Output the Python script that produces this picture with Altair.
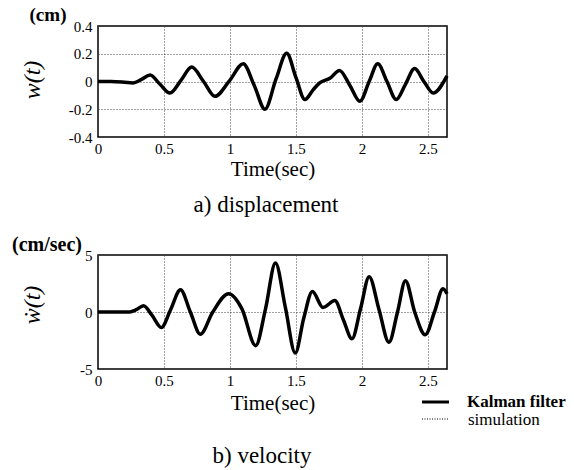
import altair as alt
import pandas as pd

# ---- data ----
t_disp = [0.00, 0.10, 0.20, 0.265, 0.33, 0.395, 0.47, 0.545, 0.63, 0.71, 0.80, 0.886,
          1.00, 1.10, 1.185, 1.265, 1.35, 1.43, 1.50, 1.568, 1.63, 1.68, 1.76, 1.83,
          1.91, 1.985, 2.055, 2.12, 2.19, 2.26, 2.33, 2.40, 2.47, 2.54, 2.645]
w_disp = [0.000, 0.000, -0.005, -0.010, 0.015, 0.046, -0.020, -0.083, 0.010, 0.104, 0.000, -0.107,
          0.010, 0.128, -0.030, -0.200, 0.020, 0.203, 0.030, -0.130, -0.060, -0.010, 0.025, 0.080,
          -0.030, -0.142, 0.000, 0.128, 0.000, -0.130, -0.020, 0.093, 0.000, -0.083, 0.040]

t_vel = [0.00, 0.24, 0.29, 0.345, 0.41, 0.48, 0.55, 0.625, 0.70, 0.775, 0.87, 0.99,
         1.09, 1.195, 1.27, 1.345, 1.42, 1.495, 1.56, 1.625, 1.705, 1.795, 1.86, 1.925,
         1.99, 2.055, 2.13, 2.205, 2.27, 2.33, 2.40, 2.48, 2.55, 2.615, 2.645]
v_vel = [0.0, 0.0, 0.2, 0.55, -0.3, -1.35, 0.2, 1.95, 0.0, -1.95, 0.0, 1.6,
         0.3, -2.95, 0.3, 4.3, 0.4, -3.6, -0.5, 1.8, 0.4, 1.0, -0.7, -2.35,
         0.3, 3.1, 0.2, -2.65, 0.0, 2.75, 0.0, -2.0, 0.0, 2.05, 1.6]

x_ticks = [0, 0.5, 1, 1.5, 2, 2.5]
y_ticks_disp = [-0.4, -0.2, 0, 0.2, 0.4]
y_ticks_vel = [-5, 0, 5]
series_names = ["Kalman filter", "simulation"]

SERIF = "Liberation Serif"
X_MAX = 2.645


def txt(label, x, y, size=19, weight="normal", style="normal", angle=0, align="center"):
    return alt.Chart(pd.DataFrame({"s": [label]})).mark_text(
        font=SERIF, fontSize=size, fontWeight=weight, fontStyle=style,
        angle=angle, align=align, baseline="middle", color="black"
    ).encode(text="s:N", x=alt.value(x), y=alt.value(y))


def x_axis(tp):
    return alt.Axis(values=x_ticks, labelExpr="toString(datum.value)", title="Time(sec)",
                    labelFlush=False, labelOverlap=False, labelPadding=4, titlePadding=tp)


def y_axis(vals):
    return alt.Axis(values=vals, labelExpr="toString(datum.value)", title=None,
                    labelOverlap=False, labelPadding=6)


df1 = pd.DataFrame({"t": t_disp, "w": w_disp})
line1 = alt.Chart(df1).mark_line(color="black", strokeWidth=3.5, interpolate="monotone").encode(
    x=alt.X("t:Q", scale=alt.Scale(domain=[0, X_MAX], nice=False, zero=False), axis=x_axis(2)),
    y=alt.Y("w:Q", scale=alt.Scale(domain=[-0.4, 0.4], nice=False), axis=y_axis(y_ticks_disp)),
)
panel1 = alt.layer(
    line1,
    txt("(cm)", -50, -11, size=19, weight="bold"),
    txt("w(t)", -65, 54, size=24, style="italic", angle=270),
    txt("a) displacement", 168, 179, size=23),
).properties(width=349, height=111)

df2 = pd.DataFrame({"t": t_vel, "v": v_vel})
line2 = alt.Chart(df2).mark_line(color="black", strokeWidth=3.5, interpolate="monotone").encode(
    x=alt.X("t:Q", scale=alt.Scale(domain=[0, X_MAX], nice=False, zero=False), axis=x_axis(4)),
    y=alt.Y("v:Q", scale=alt.Scale(domain=[-5, 5], nice=False), axis=y_axis(y_ticks_vel)),
)
leg_solid = alt.Chart(pd.DataFrame({"s": [series_names[0]]})).mark_rule(
    color="black", strokeWidth=3).encode(x=alt.value(324), x2=alt.value(351), y=alt.value(147))
leg_dot = alt.Chart(pd.DataFrame({"s": [series_names[1]]})).mark_rule(
    color="black", strokeWidth=1, strokeDash=[1, 1.5]).encode(x=alt.value(324), x2=alt.value(351), y=alt.value(164))
panel2 = alt.layer(
    line2,
    txt("(cm/sec)", -51, -10, size=20, weight="bold"),
    txt("\u1e87(t)", -65, 50, size=24, style="italic", angle=270),
    txt("b) velocity", 164, 201, size=23),
    leg_solid, leg_dot,
    txt(series_names[0], 369, 147, size=17, weight="bold", align="left"),
    txt(series_names[1], 370, 165, size=17, align="left"),
).properties(width=349, height=114)

chart = alt.vconcat(panel1, panel2, spacing=118, bounds="flush").properties(
    autosize=alt.AutoSizeParams(type="none"),
    padding={"left": 98, "top": 26, "right": 127, "bottom": 444},
    background="white",
).configure_view(stroke="black", strokeWidth=1.5).configure_axis(
    labelFont=SERIF, labelFontSize=15, labelColor="black",
    titleFont=SERIF, titleFontSize=21, titleFontWeight="normal", titleColor="black",
    domain=False, ticks=False, grid=True, gridColor="#444", gridDash=[1, 2], gridWidth=1, gridOpacity=1,
)

chart.save("out.html", embed_options={"renderer": "svg", "actions": False})
